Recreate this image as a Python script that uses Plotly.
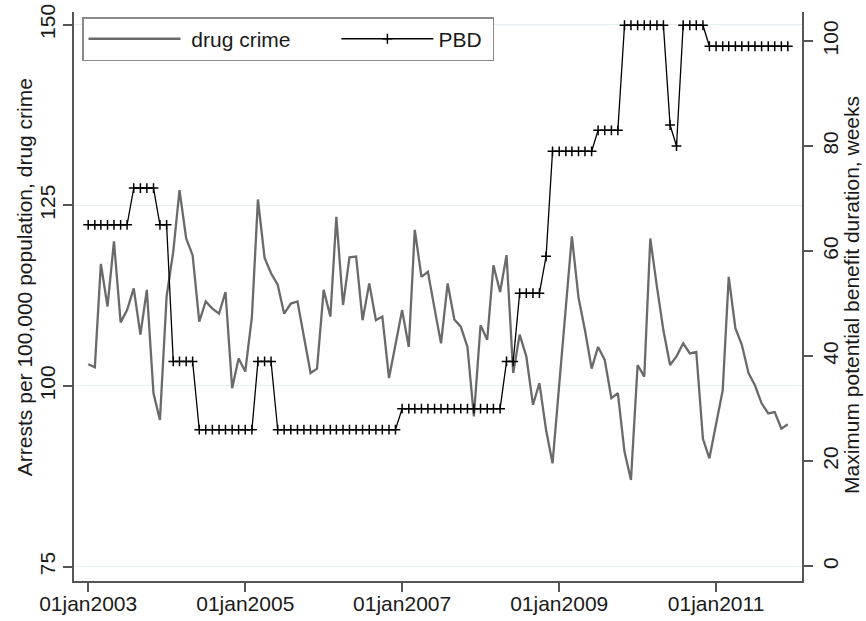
import pandas as pd
import plotly.graph_objects as go

# ---- data -------------------------------------------------------------
months = pd.date_range("2003-01-01", periods=108, freq="MS")

drug_crime = [
    103.0, 102.6, 116.9, 111.0, 120.0, 108.8, 110.5, 113.5, 107.1, 113.3,
    99.0, 95.3, 112.4, 118.6, 127.1, 120.4, 118.1, 108.9, 111.7, 110.7,
    110.0, 113.0, 99.7, 103.8, 102.0, 109.6, 125.8, 117.7, 115.6, 114.0,
    110.0, 111.4, 111.7, 106.6, 101.8, 102.4, 113.3, 109.6, 123.4, 111.2,
    117.8, 117.9, 109.1, 114.2, 109.1, 109.6, 101.1, 105.7, 110.5, 105.4,
    121.6, 115.1, 115.8, 110.7, 105.9, 114.2, 109.2, 108.2, 105.4, 95.8,
    108.4, 106.4, 116.7, 113.0, 118.1, 101.8, 107.1, 104.1, 97.4, 100.4,
    93.9, 89.3, 100.0, 110.2, 120.7, 112.2, 107.7, 102.4, 105.4, 103.6,
    98.3, 99.0, 90.9, 87.0, 102.9, 101.3, 120.4, 113.7, 107.7, 102.9,
    104.1, 105.9, 104.5, 104.7, 92.7, 90.0, 94.8, 99.4, 115.1, 108.0,
    105.7, 101.8, 100.1, 97.6, 96.2, 96.4, 94.1, 94.7,
]

pbd = [
    65, 65, 65, 65, 65, 65, 65, 72, 72, 72,
    72, 65, 65, 39, 39, 39, 39, 26, 26, 26,
    26, 26, 26, 26, 26, 26, 39, 39, 39, 26,
    26, 26, 26, 26, 26, 26, 26, 26, 26, 26,
    26, 26, 26, 26, 26, 26, 26, 26, 30, 30,
    30, 30, 30, 30, 30, 30, 30, 30, 30, 30,
    30, 30, 30, 30, 39, 39, 52, 52, 52, 52,
    59, 79, 79, 79, 79, 79, 79, 79, 83, 83,
    83, 83, 103, 103, 103, 103, 103, 103, 103, 84,
    80, 103, 103, 103, 103, 99, 99, 99, 99, 99,
    99, 99, 99, 99, 99, 99, 99, 99,
]

x_tickvals = ["2003-01-01", "2005-01-01", "2007-01-01", "2009-01-01", "2011-01-01"]
x_ticktext = ["01jan2003", "01jan2005", "01jan2007", "01jan2009", "01jan2011"]
left_ticks = [75, 100, 125, 150]
right_ticks = [0, 20, 40, 60, 80, 100]

series_names = ["drug crime", "PBD"]
left_title = "Arrests per 100,000 population, drug crime"
right_title = "Maximum potential benefit duration, weeks"

# ---- style ------------------------------------------------------------
FONT = "Liberation Sans, Arial, Helvetica, sans-serif"
FS = 21
AXIS_COL = "#555555"
TXT_COL = "#1a1a1a"
NB = "\u00a0"

fig = go.Figure()
fig.add_trace(go.Scatter(
    x=months, y=drug_crime, name=NB + series_names[0] + NB * 7, mode="lines",
    line=dict(color="#6a6a6a", width=2.3), yaxis="y",
))
fig.add_trace(go.Scatter(
    x=months, y=pbd, name=series_names[1] + NB, mode="lines+markers",
    line=dict(color="#000000", width=1.3),
    marker=dict(symbol="cross-thin", size=7, color="#000000",
                line=dict(color="#000000", width=1.5)),
    yaxis="y2",
))

common_axis = dict(
    showline=True, linecolor=AXIS_COL, linewidth=1.5,
    ticks="outside", ticklen=9, tickwidth=1.5, tickcolor=AXIS_COL,
    tickfont=dict(family=FONT, size=FS, color=TXT_COL),
    zeroline=False, automargin=False,
)

fig.update_layout(
    width=866, height=621,
    margin=dict(l=74, r=64, t=12, b=40, pad=0),
    paper_bgcolor="white", plot_bgcolor="white",
    font=dict(family=FONT, size=FS, color=TXT_COL),
    showlegend=True,
    legend=dict(
        orientation="h", x=0.011, y=0.991, xanchor="left", yanchor="top",
        bordercolor="#8a8a8a", borderwidth=1.5, bgcolor="white",
        font=dict(family=FONT, size=FS, color=TXT_COL),
        itemwidth=92,
    ),
    xaxis=dict(
        type="date",
        range=["2002-10-27", "2012-02-05"],
        tickvals=x_tickvals, ticktext=x_ticktext,
        showgrid=False, ticklabelstandoff=-6,
        **common_axis,
    ),
    yaxis=dict(
        range=[73.02, 151.74],
        tickvals=left_ticks,
        tickangle=-90,
        showgrid=True, gridcolor="#e6eff1", gridwidth=1.2,
        **common_axis,
    ),
    yaxis2=dict(
        range=[-2.80, 105.52],
        tickvals=right_ticks,
        tickangle=-90,
        overlaying="y", side="right",
        showgrid=False,
        **common_axis,
    ),
    annotations=[
        dict(text=left_title, xref="paper", yref="paper",
             x=-0.0687, y=0.534, xanchor="center", yanchor="middle",
             textangle=-90, showarrow=False,
             font=dict(family=FONT, size=FS, color=TXT_COL)),
        dict(text=right_title, xref="paper", yref="paper",
             x=1.0673, y=0.5026, xanchor="center", yanchor="middle",
             textangle=-90, showarrow=False,
             font=dict(family=FONT, size=FS, color=TXT_COL)),
    ],
)

fig.write_html("out.html")
